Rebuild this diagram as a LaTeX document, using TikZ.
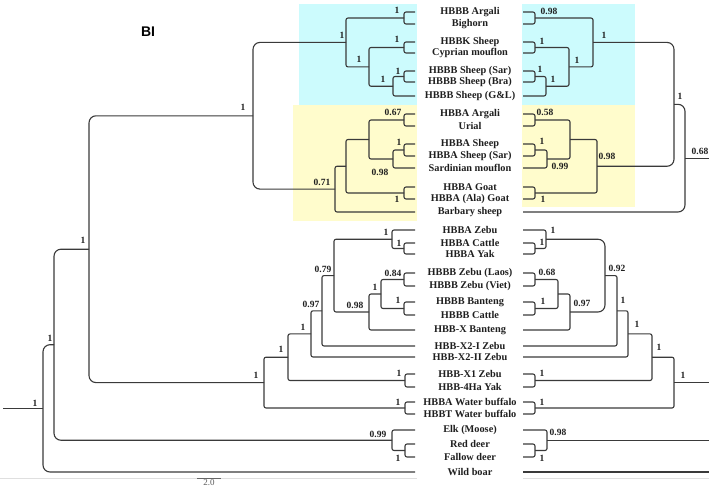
\documentclass[tikz,border=0pt]{standalone}
\usepackage{fontspec}
\setmainfont{Liberation Serif}
\newfontfamily\headfont{Liberation Sans}
\definecolor{cladecyan}{RGB}{204,251,253}
\definecolor{cladeyellow}{RGB}{255,252,204}
\definecolor{treegray}{RGB}{58,58,58}

\begin{document}
\begin{tikzpicture}[
  x=1pt, y=-1pt,
  branch/.style={draw=treegray, line width=1.1pt, rounded corners=2pt},
  longbranch/.style={branch, rounded corners=7pt},
  taxon/.style={font=\bfseries\fontsize{10.3}{12}\selectfont, text=black!88, inner sep=0pt},
  support/.style={font=\bfseries\fontsize{9.5}{11}\selectfont, text=black!88, inner sep=0pt},
  heading/.style={font=\headfont\bfseries\fontsize{14}{16}\selectfont, inner sep=0pt}
]
\useasboundingbox (0,0) rectangle (709,487);

% clade panels
\fill[cladecyan]   (299,4)   rectangle (417,105);
\fill[cladecyan]   (522,4)   rectangle (635,105);
\fill[cladeyellow] (293,105) rectangle (417,221);
\fill[cladeyellow] (522,105) rectangle (635,207);

\node[heading] (title) at (148,32) {BI};

% taxa
\node[taxon] (l1)  at (470,12)  {HBBB Argali};
\node[taxon] (l2)  at (470,24)  {Bighorn};
\node[taxon] (l3)  at (470,42)  {HBBK Sheep};
\node[taxon] (l4)  at (470,53)  {Cyprian mouflon};
\node[taxon] (l5)  at (470,71)  {HBBB Sheep (Sar)};
\node[taxon] (l6)  at (470,82)  {HBBB Sheep (Bra)};
\node[taxon] (l7)  at (470,96)  {HBBB Sheep (G\&L)};
\node[taxon] (l8)  at (470,114) {HBBA Argali};
\node[taxon] (l9)  at (470,126) {Urial};
\node[taxon] (l10) at (470,144) {HBBA Sheep};
\node[taxon] (l11) at (470,156) {HBBA Sheep (Sar)};
\node[taxon] (l12) at (470,168) {Sardinian mouflon};
\node[taxon] (l13) at (470,187) {HBBA Goat};
\node[taxon] (l14) at (470,199) {HBBA (Ala) Goat};
\node[taxon] (l15) at (470,212) {Barbary sheep};
\node[taxon] (l16) at (470,230) {HBBA Zebu};
\node[taxon] (l17) at (470,243) {HBBA Cattle};
\node[taxon] (l18) at (470,254) {HBBA Yak};
\node[taxon] (l19) at (470,273) {HBBB Zebu (Laos)};
\node[taxon] (l20) at (470,286) {HBBB Zebu (Viet)};
\node[taxon] (l21) at (470,302) {HBBB Banteng};
\node[taxon] (l22) at (470,315) {HBBB Cattle};
\node[taxon] (l23) at (470,330) {HBB-X Banteng};
\node[taxon] (l24) at (470,346) {HBB-X2-I Zebu};
\node[taxon] (l25) at (470,357) {HBB-X2-II Zebu};
\node[taxon] (l26) at (470,374) {HBB-X1 Zebu};
\node[taxon] (l27) at (470,387) {HBB-4Ha Yak};
\node[taxon] (l28) at (470,402) {HBBA Water buffalo};
\node[taxon] (l29) at (470,414) {HBBT Water buffalo};
\node[taxon] (l30) at (470,430) {Elk (Moose)};
\node[taxon] (l31) at (470,444) {Red deer};
\node[taxon] (l32) at (470,457) {Fallow deer};
\node[taxon] (l33) at (470,472) {Wild boar};

\coordinate (lx) at (415,0);
\coordinate (rx) at (523,0);

% left tree
\coordinate (L-ab)  at (404,18);
\coordinate (L-kc)  at (404,47.5);
\coordinate (L-sb)  at (404,76.5);
\coordinate (L-f)   at (393,86.25);
\coordinate (L-e)   at (369,66.9);
\coordinate (L-cy)  at (346,42.4);
\coordinate (L-au)  at (404,120);
\coordinate (L-ss)  at (404,150);
\coordinate (L-j)   at (393,159);
\coordinate (L-i)   at (369,139.5);
\coordinate (L-go)  at (404,193);
\coordinate (L-h)   at (346,166.25);
\coordinate (L-g)   at (335,189.1);
\coordinate (L-c)   at (253,115.8);
\coordinate (L-cyk) at (404,248.5);
\coordinate (L-o)   at (392,239.25);
\coordinate (L-lv)  at (404,279.5);
\coordinate (L-bc)  at (404,308.5);
\coordinate (L-q)   at (381,294);
\coordinate (L-p)   at (369,312);
\coordinate (L-n)   at (334,275.6);
\coordinate (L-m)   at (322,310.8);
\coordinate (L-l)   at (311,333.9);
\coordinate (L-x1)  at (405,380.5);
\coordinate (L-k)   at (288,357.2);
\coordinate (L-wb)  at (405,408);
\coordinate (L-d)   at (264,382.6);
\coordinate (L-b)   at (89,249.2);
\coordinate (L-rf)  at (405,450.5);
\coordinate (L-dr)  at (392,440.25);
\coordinate (L-a)   at (54,344.7);
\coordinate (L-r)   at (43,408.35);
\coordinate (L-root) at (3,408.35);

\draw[branch] (l1 -| lx) -| (L-ab) |- (l2 -| lx);
\draw[branch] (l3 -| lx) -| (L-kc) |- (l4 -| lx);
\draw[branch] (l5 -| lx) -| (L-sb) |- (l6 -| lx);
\draw[branch] (L-sb) -| (L-f) |- (l7 -| lx);
\draw[branch] (L-kc) -| (L-e) |- (L-f);
\draw[branch] (L-ab) -| (L-cy) |- (L-e);
\draw[branch] (l8 -| lx) -| (L-au) |- (l9 -| lx);
\draw[branch] (l10 -| lx) -| (L-ss) |- (l11 -| lx);
\draw[branch] (L-ss) -| (L-j) |- (l12 -| lx);
\draw[branch] (L-au) -| (L-i) |- (L-j);
\draw[branch] (l13 -| lx) -| (L-go) |- (l14 -| lx);
\draw[branch] (L-i) -| (L-h) |- (L-go);
\draw[branch] (L-h) -| (L-g) |- (l15 -| lx);
\draw[longbranch] (L-cy) -| (L-c) |- (L-g);
\draw[branch] (l17 -| lx) -| (L-cyk) |- (l18 -| lx);
\draw[branch] (l16 -| lx) -| (L-o) |- (L-cyk);
\draw[branch] (l19 -| lx) -| (L-lv) |- (l20 -| lx);
\draw[branch] (l21 -| lx) -| (L-bc) |- (l22 -| lx);
\draw[branch] (L-lv) -| (L-q) |- (L-bc);
\draw[branch] (L-q) -| (L-p) |- (l23 -| lx);
\draw[branch] (L-o) -| (L-n) |- (L-p);
\draw[branch] (L-n) -| (L-m) |- (l24 -| lx);
\draw[branch] (L-m) -| (L-l) |- (l25 -| lx);
\draw[branch] (l26 -| lx) -| (L-x1) |- (l27 -| lx);
\draw[branch] (L-l) -| (L-k) |- (L-x1);
\draw[branch] (l28 -| lx) -| (L-wb) |- (l29 -| lx);
\draw[branch] (L-k) -| (L-d) |- (L-wb);
\draw[longbranch] (L-c) -| (L-b) |- (L-d);
\draw[branch] (l31 -| lx) -| (L-rf) |- (l32 -| lx);
\draw[branch] (l30 -| lx) -| (L-dr) |- (L-rf);
\draw[longbranch] (L-b) -| (L-a) |- (L-dr);
\draw[longbranch] (L-a) -| (L-r) |- (l33 -| lx);
\draw[branch] (L-root) -- (L-r);

\node[support] (sl1)  at (35,403)  {1};
\node[support] (sl2)  at (50,338)  {1};
\node[support] (sl3)  at (83,240)  {1};
\node[support] (sl4)  at (243,107) {1};
\node[support] (sl5)  at (342,35)  {1};
\node[support] (sl6)  at (397,10)  {1};
\node[support] (sl7)  at (359,59)  {1};
\node[support] (sl8)  at (397,39)  {1};
\node[support] (sl9)  at (383,79)  {1};
\node[support] (sl10) at (398,71)  {1};
\node[support] (sl11) at (322,182) {0.71};
\node[support] (sl12) at (393,112) {0.67};
\node[support] (sl13) at (399,142) {1};
\node[support] (sl14) at (380,172) {0.98};
\node[support] (sl15) at (397,199) {1};
\node[support] (sl16) at (256,375) {1};
\node[support] (sl17) at (281,349) {1};
\node[support] (sl18) at (303,327) {1};
\node[support] (sl19) at (311,304) {0.97};
\node[support] (sl20) at (323,269) {0.79};
\node[support] (sl21) at (386,232) {1};
\node[support] (sl22) at (399,243) {1};
\node[support] (sl23) at (355,305) {0.98};
\node[support] (sl24) at (375,287) {1};
\node[support] (sl25) at (393,273) {0.84};
\node[support] (sl26) at (398,300) {1};
\node[support] (sl27) at (399,373) {1};
\node[support] (sl28) at (398,402) {1};
\node[support] (sl29) at (378,434) {0.99};
\node[support] (sl30) at (398,458) {1};

% right tree
\coordinate (R-ab)  at (535,18);
\coordinate (R-kc)  at (535,47.5);
\coordinate (R-sb)  at (535,76.5);
\coordinate (R-3)   at (546,86.25);
\coordinate (R-2)   at (569,66.9);
\coordinate (R-1)   at (593,42.4);
\coordinate (R-au)  at (535,120);
\coordinate (R-ss)  at (535,150);
\coordinate (R-5)   at (547,159);
\coordinate (R-4)   at (570,139.5);
\coordinate (R-go)  at (535,193);
\coordinate (R-6)   at (597,166.25);
\coordinate (R-7)   at (674,104.3);
\coordinate (R-8)   at (685,158.2);
\coordinate (R-end1) at (709,158.2);
\coordinate (R-cyk) at (535,248.5);
\coordinate (R-o)   at (546,239.25);
\coordinate (R-lv)  at (535,279.5);
\coordinate (R-bc)  at (535,308.5);
\coordinate (R-s3)  at (558,294);
\coordinate (R-s4)  at (570,312);
\coordinate (R-s2)  at (605,275.6);
\coordinate (R-s5)  at (617,310.8);
\coordinate (R-s6)  at (628,333.9);
\coordinate (R-x1)  at (535,380.5);
\coordinate (R-s7)  at (652,357.2);
\coordinate (R-wb)  at (535,408);
\coordinate (R-s8)  at (674,382.6);
\coordinate (R-end2) at (709,382.6);
\coordinate (R-rf)  at (535,450.5);
\coordinate (R-s9)  at (547,440.25);
\coordinate (R-end3) at (709,440.25);
\coordinate (R-end4) at (709,472);

\draw[branch] (l1 -| rx) -| (R-ab) |- (l2 -| rx);
\draw[branch] (l3 -| rx) -| (R-kc) |- (l4 -| rx);
\draw[branch] (l5 -| rx) -| (R-sb) |- (l6 -| rx);
\draw[branch] (R-sb) -| (R-3) |- (l7 -| rx);
\draw[branch] (R-kc) -| (R-2) |- (R-3);
\draw[branch] (R-ab) -| (R-1) |- (R-2);
\draw[branch] (l8 -| rx) -| (R-au) |- (l9 -| rx);
\draw[branch] (l10 -| rx) -| (R-ss) |- (l11 -| rx);
\draw[branch] (R-ss) -| (R-5) |- (l12 -| rx);
\draw[branch] (R-au) -| (R-4) |- (R-5);
\draw[branch] (l13 -| rx) -| (R-go) |- (l14 -| rx);
\draw[branch] (R-4) -| (R-6) |- (R-go);
\draw[longbranch] (R-1) -| (R-7) |- (R-6);
\draw[longbranch] (R-7) -| (R-8) |- (l15 -| rx);
\draw[branch] (R-8) -- (R-end1);
\draw[branch] (l17 -| rx) -| (R-cyk) |- (l18 -| rx);
\draw[branch] (l16 -| rx) -| (R-o) |- (R-cyk);
\draw[branch] (l19 -| rx) -| (R-lv) |- (l20 -| rx);
\draw[branch] (l21 -| rx) -| (R-bc) |- (l22 -| rx);
\draw[branch] (R-lv) -| (R-s3) |- (R-bc);
\draw[branch] (R-s3) -| (R-s4) |- (l23 -| rx);
\draw[longbranch] (R-o) -| (R-s2) |- (R-s4);
\draw[branch] (R-s2) -| (R-s5) |- (l24 -| rx);
\draw[branch] (R-s5) -| (R-s6) |- (l25 -| rx);
\draw[branch] (l26 -| rx) -| (R-x1) |- (l27 -| rx);
\draw[branch] (R-s6) -| (R-s7) |- (R-x1);
\draw[branch] (l28 -| rx) -| (R-wb) |- (l29 -| rx);
\draw[branch] (R-s7) -| (R-s8) |- (R-wb);
\draw[branch] (R-s8) -- (R-end2);
\draw[branch] (l31 -| rx) -| (R-rf) |- (l32 -| rx);
\draw[branch] (l30 -| rx) -| (R-s9) |- (R-rf);
\draw[branch] (R-s9) -- (R-end3);
\draw[branch] (l33 -| rx) -- (R-end4);

\node[support] (sr1)  at (549,11)  {0.98};
\node[support] (sr2)  at (542,41)  {1};
\node[support] (sr3)  at (540,69)  {1};
\node[support] (sr4)  at (553,79)  {1};
\node[support] (sr5)  at (577,60)  {1};
\node[support] (sr6)  at (604,35)  {1};
\node[support] (sr7)  at (545,112) {0.58};
\node[support] (sr8)  at (542,141) {1};
\node[support] (sr9)  at (560,166) {0.99};
\node[support] (sr10) at (543,199) {1};
\node[support] (sr11) at (607,156) {0.98};
\node[support] (sr12) at (680,96)  {1};
\node[support] (sr13) at (700,151) {0.68};
\node[support] (sr14) at (542,242) {1};
\node[support] (sr15) at (553,230) {1};
\node[support] (sr16) at (547,272) {0.68};
\node[support] (sr17) at (543,301) {1};
\node[support] (sr18) at (582,303) {0.97};
\node[support] (sr19) at (617,268) {0.92};
\node[support] (sr20) at (623,300) {1};
\node[support] (sr21) at (637,324) {1};
\node[support] (sr22) at (542,373) {1};
\node[support] (sr23) at (659,347) {1};
\node[support] (sr24) at (542,402) {1};
\node[support] (sr25) at (683,375) {1};
\node[support] (sr26) at (542,458) {1};
\node[support] (sr27) at (558,432) {0.98};

% scale bar
\draw[gray!25, line width=0.6pt] (0,478) -- (417,478);
\draw[gray!25, line width=0.6pt] (523,478) -- (709,478);
\coordinate (sb1) at (197,478);
\coordinate (sb2) at (221,478);
\draw[gray!80!black, line width=0.9pt] (sb1) -- (sb2);
\node[font=\fontsize{9}{10}\selectfont, text=gray!70!black, inner sep=0pt] (scale) at (209,482.3) {2.0};
\end{tikzpicture}
\end{document}
